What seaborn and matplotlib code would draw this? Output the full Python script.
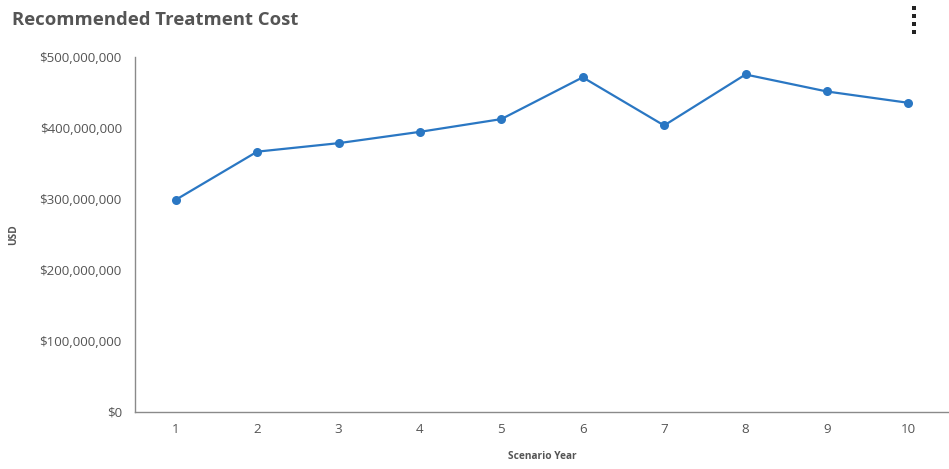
import matplotlib
matplotlib.use("Agg")
import matplotlib.pyplot as plt
import matplotlib.ticker as mticker
from matplotlib.patches import Rectangle
import pandas as pd
import seaborn as sns

# Recommended treatment cost per scenario year (USD)
years = [1, 2, 3, 4, 5, 6, 7, 8, 9, 10]
cost_usd = [299_000_000, 367_000_000, 379_000_000, 395_000_000, 413_000_000,
            472_000_000, 404_000_000, 476_000_000, 452_000_000, 436_000_000]
y_ticks = [0, 100_000_000, 200_000_000, 300_000_000, 400_000_000, 500_000_000]

df = pd.DataFrame({"Scenario Year": years, "USD": cost_usd})

sns.set_theme(style="white")
plt.rcParams["font.family"] = ["Open Sans", "DejaVu Sans"]

text_grey = "#555555"
line_blue = "#2a77c3"

fig = plt.figure(figsize=(9.49, 4.69), dpi=100)
ax = fig.add_axes([0.1423, 0.1226, 0.8577, 0.7548])

sns.lineplot(data=df, x="Scenario Year", y="USD", ax=ax, color=line_blue,
             linewidth=1.6, marker="o", markersize=6.5, markeredgewidth=0,
             markeredgecolor=line_blue)

ax.set_xlim(0.5, 10.5)
ax.set_ylim(0, 500_000_000)
ax.set_xticks(years)
ax.set_yticks(y_ticks)
ax.yaxis.set_major_formatter(mticker.FuncFormatter(lambda v, _: f"${v:,.0f}"))

ax.tick_params(axis="both", length=0, labelsize=9.6, labelcolor=text_grey)
ax.tick_params(axis="x", pad=8)
ax.tick_params(axis="y", pad=9.5)

for side in ("top", "right"):
    ax.spines[side].set_visible(False)
for side in ("left", "bottom"):
    ax.spines[side].set_color("#8a8a8a")
    ax.spines[side].set_linewidth(1.0)

ax.set_xlabel("Scenario Year", fontsize=7.3, fontweight="bold", color=text_grey,
              labelpad=11)
ax.set_ylabel("USD", fontsize=7.3, fontweight="bold", color=text_grey)
ax.yaxis.set_label_coords(-0.142, 0.5)

fig.text(12 / 949, 1 - 20 / 469, "Recommended Treatment Cost", fontsize=13.3,
         fontweight="bold", color=text_grey, ha="left", va="center")

# kebab menu icon in the top-right corner
for yc in (8, 16, 24, 32):
    fig.patches.append(Rectangle(((912) / 949, 1 - (yc + 2) / 469), 4 / 949, 4 / 469,
                                 transform=fig.transFigure, color="#222222",
                                 linewidth=0))

fig.savefig("out.png", dpi=100)
